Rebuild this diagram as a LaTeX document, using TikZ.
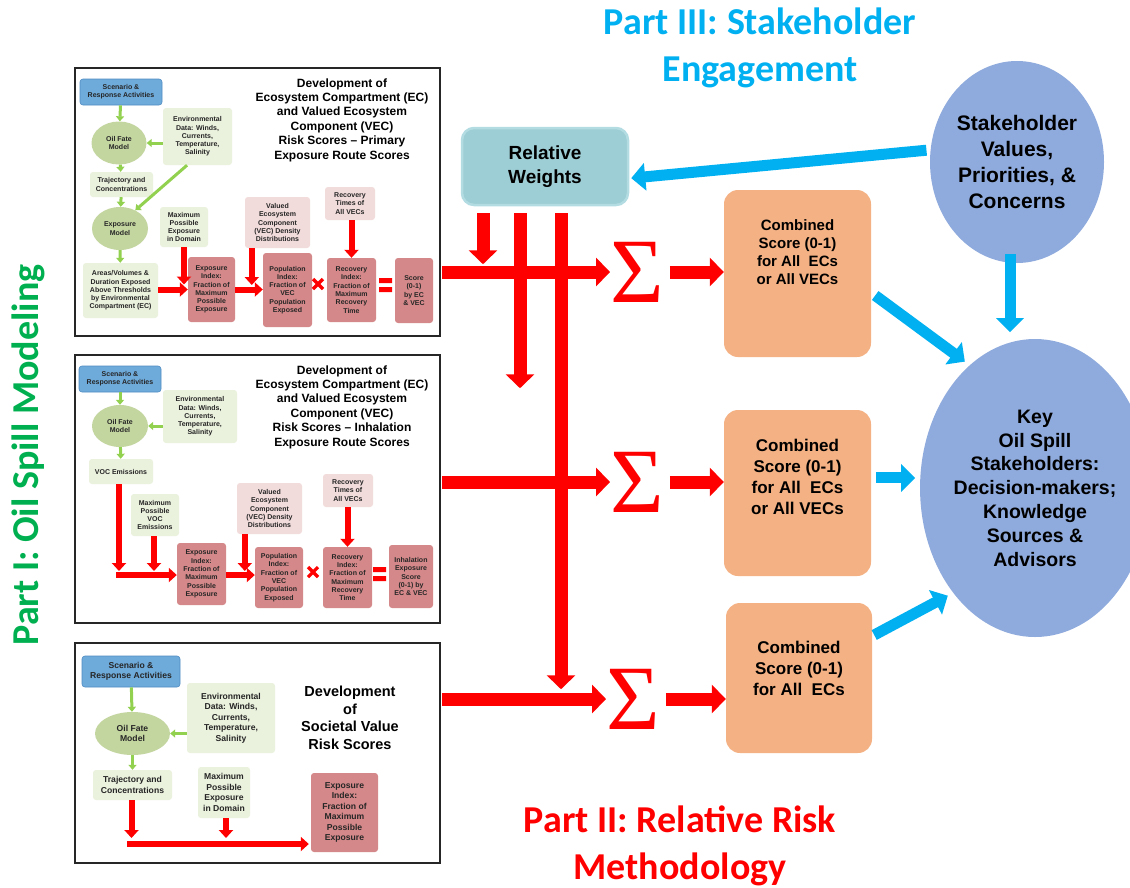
\documentclass[tikz,border=0pt]{standalone}
\usepackage{fontspec}
\setmainfont{Liberation Sans}
\newfontfamily\partfont{Carlito}
\newfontfamily\sigmafont{Liberation Serif}
\usetikzlibrary{positioning,shapes.geometric,calc,arrows.meta}

\definecolor{scenfill}{RGB}{110,170,218}
\definecolor{scenedge}{RGB}{80,140,195}
\definecolor{fatefill}{RGB}{196,214,160}
\definecolor{envfill}{RGB}{234,241,221}
\definecolor{idxfill}{RGB}{212,136,137}
\definecolor{vecfill}{RGB}{242,219,219}
\definecolor{arrgreen}{RGB}{146,208,80}
\definecolor{rwfill}{RGB}{158,206,213}
\definecolor{rwedge}{RGB}{178,220,226}
\definecolor{combfill}{RGB}{244,177,131}
\definecolor{ellfill}{RGB}{143,170,220}
\definecolor{partblue}{RGB}{0,176,240}
\definecolor{partgreen}{RGB}{0,176,80}

\newcommand{\panelfont}{\fontsize{7}{8.3}\selectfont\bfseries}
\newcommand{\panelfontL}{\fontsize{8.6}{10.4}\selectfont\bfseries}

\tikzset{
  sz/.style 2 args = {minimum width=#1pt, minimum height=#2pt},
  panel/.style  = {draw=black!85, line width=1.6pt, fill=white},
  pbox/.style   = {rectangle, rounded corners=3pt, align=center, inner sep=1pt,
                   text=black!85, font=\panelfont},
  scen/.style   = {pbox, fill=scenfill, draw=scenedge, line width=0.6pt},
  env/.style    = {pbox, fill=envfill},
  fate/.style   = {ellipse, fill=fatefill, align=center, inner sep=0pt,
                   text=black!85, font=\panelfont},
  idx/.style    = {pbox, fill=idxfill},
  vec/.style    = {pbox, fill=vecfill},
  ptitle/.style = {align=center, font=\fontsize{12}{14.4}\selectfont\bfseries},
  parttitle/.style = {align=center, font=\partfont\fontsize{38}{47}\selectfont\bfseries},
  grn/.style    = {draw=arrgreen, line width=3pt,
                   -{Triangle[width=8pt,length=5pt]}},
  rd/.style     = {draw=red, line width=6pt,
                   -{Triangle[width=14pt,length=8pt]}},
  bigred/.style = {draw=red, line width=13pt,
                   -{Triangle[width=28pt,length=14pt]}},
  sky/.style    = {draw=partblue, line width=11pt,
                   -{Triangle[width=27pt,length=14pt]}},
  sig/.style    = {inner sep=0pt, text=red, font=\sigmafont\fontsize{92}{92}\selectfont},
  comb/.style   = {rectangle, rounded corners=14pt, fill=combfill},
  combtext/.style = {align=center, inner sep=0pt, font=\bfseries},
  stake/.style  = {ellipse, fill=ellfill, align=center, inner sep=0pt,
                   font=\fontsize{21}{26}\selectfont\bfseries}
}

\begin{document}
\begin{tikzpicture}[x=1pt,y=-1pt]
\useasboundingbox (0,0) rectangle (1130,887);

% part headings
\node[parttitle, text=partblue] (engage) at (760,48) {Part III: Stakeholder\\Engagement};
\node[parttitle, text=red] (method) at (680,846) {Part II: Relative Risk\\Methodology};
\node[parttitle, text=partgreen, rotate=90] (modeling) at (28,455) {Part I: Oil Spill Modeling};

% the three modeling panels
\node[panel, sz={365}{268}] (pan1) at (257.5,202) {};
\node[panel, sz={365}{268}] (pan2) at (257.5,489) {};
\node[panel, sz={365}{220}] (pan3) at (257.5,753) {};

%% panel 1: primary exposure route
\node[ptitle] (tt1) at (342,120) {Development of\\Ecosystem Compartment (EC)\\and Valued Ecosystem\\Component (VEC)\\Risk Scores – Primary\\Exposure Route Scores};
\node[scen, sz={82}{26}] (s1) at (121,92) {Scenario \&\\Response Activities};
\node[fate, sz={55}{43}] (f1) at (119,143) {Oil Fate\\Model};
\node[env, sz={69}{57}] (e1) at (197.5,136.5) {Environmental\\Data: Winds,\\Currents,\\Temperature,\\Salinity};
\node[env, sz={63}{25}] (t1) at (121.5,184.5) {Trajectory and\\Concentrations};
\node[fate, sz={56}{43}] (x1) at (120,228.5) {Exposure\\Model};
\node[env, sz={75}{55}] (a1) at (120.5,290.5) {Areas/Volumes \&\\Duration Exposed\\Above Thresholds\\by Environmental\\Compartment (EC)};
\node[env, sz={48}{40}] (m1) at (184,227) {Maximum\\Possible\\Exposure\\in Domain};
\node[idx, sz={47}{65}] (ei1) at (211.5,289.5) {Exposure\\Index:\\Fraction of\\Maximum\\Possible\\Exposure};
\node[vec, sz={65}{51}] (vd1) at (277.5,222.5) {Valued\\Ecosystem\\Component\\(VEC) Density\\Distributions};
\node[idx, sz={49}{74}] (pi1) at (287.5,290) {Population\\Index:\\Fraction of\\VEC\\Population\\Exposed};
\node[vec, sz={50}{33}] (rt1) at (350,203.5) {Recovery\\Times of\\All VECs};
\node[idx, sz={49}{64}] (ri1) at (351.5,290) {Recovery\\Index:\\Fraction of\\Maximum\\Recovery\\Time};
\node[idx, sz={38}{65}] (sp1) at (414,290.5) {Score\\(0-1)\\by EC\\\& VEC};

\draw[grn] (s1) -- (f1);
\draw[grn] (f1) -- (t1);
\draw[grn] (t1) -- (x1);
\draw[grn] (x1) -- (a1);
\draw[grn] (f1.east -| e1.west) -- (f1.east);
\draw[grn] (e1.250) -- (x1.50);
\draw[rd] (a1.east |- ei1.west) -- (ei1.west);
\draw[rd] (m1.south) -- ($(m1.south |- ei1.west)+(0,-5)$);
\draw[rd] (ei1.east) -- (ei1.east -| pi1.west);
\draw[rd] ($(vd1.south west)+(7,0)$) -- ($(vd1.south west |- pi1.west)+(7,-5)$);
\draw[rd] (rt1.south -| ri1.north) -- (ri1.north);
% times and equals
\draw[red, line width=3.2pt] (313,279) -- (323,289) (313,289) -- (323,279);
\fill[red] (379,278) rectangle (392,283) (379,287) rectangle (392,292);

%% panel 2: inhalation exposure route
\node[ptitle] (tt2) at (342,407) {Development of\\Ecosystem Compartment (EC)\\and Valued Ecosystem\\Component (VEC)\\Risk Scores – Inhalation\\Exposure Route Scores};
\node[scen, sz={82}{26}] (s2) at (120,379) {Scenario \&\\Response Activities};
\node[fate, sz={56}{42}] (f2) at (120,426) {Oil Fate\\Model};
\node[env, sz={74}{53}] (e2) at (200,416.5) {Environmental\\Data: Winds,\\Currents,\\Temperature,\\Salinity};
\node[env, sz={64}{25}] (v2) at (121,471.5) {VOC Emissions};
\node[env, sz={48}{42}] (m2) at (155,515) {Maximum\\Possible\\VOC\\Emissions};
\node[idx, sz={49}{62}] (ei2) at (201.5,574) {Exposure\\Index:\\Fraction of\\Maximum\\Possible\\Exposure};
\node[vec, sz={65}{51}] (vd2) at (269.5,508.5) {Valued\\Ecosystem\\Component\\(VEC) Density\\Distributions};
\node[idx, sz={48}{61}] (pi2) at (279,577.5) {Population\\Index:\\Fraction of\\VEC\\Population\\Exposed};
\node[vec, sz={50}{33}] (rt2) at (348,490.5) {Recovery\\Times of\\All VECs};
\node[idx, sz={49}{61}] (ri2) at (347.5,577.5) {Recovery\\Index:\\Fraction of\\Maximum\\Recovery\\Time};
\node[idx, sz={44}{63}] (sp2) at (411,576.5) {Inhalation\\Exposure\\Score\\(0-1) by\\EC \& VEC};
\coordinate (h2) at (116,575);

\draw[grn] (s2) -- (f2);
\draw[grn] (f2) -- (v2);
\draw[grn] (f2.east -| e2.west) -- (f2.east);
\draw[rd] ($(v2.south)+(-2,0)$) -- ($(h2)+(3,-4)$);
\draw[rd] (h2) -- (h2 -| ei2.west);
\draw[rd] ($(m2.south)+(-1,0)$) -- ($(m2.south |- h2)+(-1,-4)$);
\draw[rd] (h2 -| ei2.east) -- (h2 -| pi2.west);
\draw[rd] ($(vd2.south west)+(8,0)$) -- ($(vd2.south west |- h2)+(8,-4)$);
\draw[rd] (rt2.south -| ri2.north) -- (ri2.north);
\draw[red, line width=3.2pt] (308,567) -- (318,577) (308,577) -- (318,567);
\fill[red] (373,567) rectangle (386,572) (373,576) rectangle (386,581);

%% panel 3: societal values
\node[ptitle, font=\fontsize{14.5}{17.5}\selectfont\bfseries] (tt3) at (350,718) {Development\\of\\Societal Value\\Risk Scores};
\node[scen, sz={98}{31}, font=\panelfontL] (s3) at (131,671.5) {Scenario \&\\Response Activities};
\node[fate, sz={75}{43}, font=\panelfontL] (f3) at (132.5,733.5) {Oil Fate\\Model};
\node[env, sz={88}{70}, font=\panelfontL] (e3) at (231,718) {Environmental\\Data: Winds,\\Currents,\\Temperature,\\Salinity};
\node[env, sz={79}{30}, font=\panelfontL] (t3) at (132.5,785) {Trajectory and\\Concentrations};
\node[env, sz={52}{51}, font=\panelfontL] (m3) at (224,792.5) {Maximum\\Possible\\Exposure\\in Domain};
\node[idx, sz={67}{79}, font=\panelfontL] (ei3) at (344.5,812.5) {Exposure\\Index:\\Fraction of\\Maximum\\Possible\\Exposure};
\coordinate (h3) at (127,844);

\draw[grn] (s3) -- (f3);
\draw[grn] (f3) -- (t3);
\draw[grn] (f3.east -| e3.west) -- (f3.east);
\draw[rd] ($(t3.south)+(-1,0)$) -- ($(t3.south |- h3)+(-1,-6)$);
\draw[rd] ($(m3.south)+(2,0)$) -- ($(m3.south |- h3)+(2,-6)$);
\draw[rd] (h3) -- ($(h3 -| ei3.west)+(-2,0)$);

%% relative risk methodology
\node[rectangle, rounded corners=12pt, fill=rwfill, draw=rwedge, line width=2.5pt,
      sz={166}{77}, align=center, font=\fontsize{19}{24}\selectfont\bfseries]
      (rw) at (545,166.5) {Relative\\Weights};

\node[sig] (sig1) at (637,272) {Σ};
\node[sig] (sig2) at (637,482) {Σ};
\node[sig] (sig3) at (633,699) {Σ};

\node[comb, sz={147}{167}] (cs1) at (797.5,273.5) {};
\node[comb, sz={147}{166}] (cs2) at (797.5,493) {};
\node[comb, sz={146}{150}] (cs3) at (799,678) {};
\node[combtext, font=\fontsize{15}{18}\selectfont\bfseries] (cs1t) at (797.5,252)
      {Combined\\Score (0-1)\\for All\ \ ECs\\or All VECs};
\node[combtext, font=\fontsize{17}{21}\selectfont\bfseries] (cs2t) at (797.5,477)
      {Combined\\Score (0-1)\\for All\ \ ECs\\or All VECs};
\node[combtext, font=\fontsize{17}{21}\selectfont\bfseries] (cs3t) at (799,668)
      {Combined\\Score (0-1)\\for All\ \ ECs};

% weights feeding the sums
\draw[bigred] ($(rw.south)+(-62,7)$) -- ++(0,51);
\draw[bigred] ($(rw.south)+(-25,7)$) -- ++(0,175);
\draw[bigred] ($(rw.south)+(16,7)$) -- ++(0,476);

\draw[bigred] ($(pan1.east |- sig1.west)+(1,0)$) -- (sig1.west);
\draw[bigred] ($(pan2.east |- sig2.west)+(1,0)$) -- (sig2.west);
\draw[bigred] ($(pan3.east |- sig3.west)+(1,0)$) -- (sig3.west);
\draw[bigred] ($(sig1.east)+(6,0)$) -- (sig1.east -| cs1.west);
\draw[bigred] ($(sig2.east)+(6,0)$) -- (sig2.east -| cs2.west);
\draw[bigred] ($(sig3.east)+(6,0)$) -- (sig3.east -| cs3.west);

%% stakeholder engagement
\node[stake, sz={174}{202}] (sv) at (1017,162) {Stakeholder\\Values,\\Priorities, \&\\Concerns};
\node[stake, sz={190}{298}, font=\fontsize{19.5}{23.8}\selectfont\bfseries] (key) at (1035,488)
      {Key\\Oil Spill\\Stakeholders:\\Decision-makers;\\Knowledge\\Sources \&\\Advisors};

\draw[sky, shorten <=4pt, shorten >=2pt] (sv.172) -- (rw.-8);
\draw[sky] ($(sv.south)+(-7,-9)$) -- ++(0,78);
\draw[sky, shorten >=6pt] ($(cs1.east)+(4,22)$) -- (key.118);
\draw[sky, shorten >=5pt] ($(key.175 -| cs2.east)+(5,0)$) -- (key.175);
\draw[sky, shorten >=6pt] ($(cs3.east)+(2,-43)$) -- (key.232);
\end{tikzpicture}
\end{document}
